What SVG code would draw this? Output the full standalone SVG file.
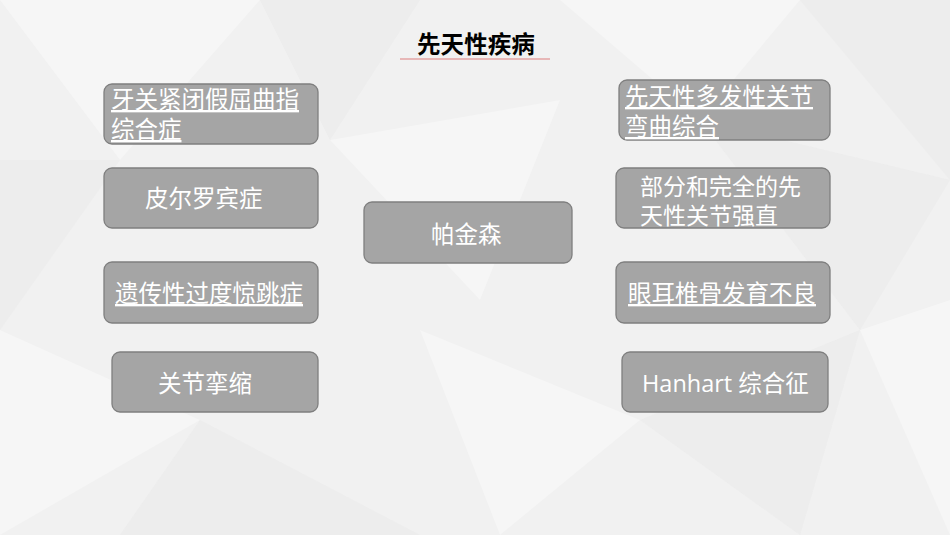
<svg xmlns="http://www.w3.org/2000/svg" width="950" height="535" viewBox="0 0 950 535">
<style>
.box{fill:#a5a5a5;stroke:#7f7f7f;stroke-width:1.3}
.t{font-family:"Open Sans","Noto Sans CJK SC",sans-serif;font-size:23.5px;fill:#ffffff}
.u{text-decoration:underline}
.title{font-family:"Noto Sans CJK SC",sans-serif;font-size:23.6px;font-weight:bold;fill:#000000}
.bg1{fill:#ffffff;opacity:0.35}
.bg2{fill:#e4e4e4;opacity:0.35}
</style>
<g id="background">
<rect x="0" y="0" width="950" height="535" fill="#f1f1f1"/>
<polygon class="bg1" points="0,0 260,0 120,160"/>
<polygon class="bg2" points="260,0 420,0 330,140"/>
<polygon class="bg1" points="560,0 800,0 700,120"/>
<polygon class="bg2" points="800,0 950,0 950,180"/>
<polygon class="bg2" points="0,160 120,160 0,330"/>
<polygon class="bg1" points="330,140 560,100 480,300"/>
<polygon class="bg2" points="700,120 950,180 860,330"/>
<polygon class="bg1" points="0,330 200,420 0,535"/>
<polygon class="bg2" points="200,420 420,535 120,535"/>
<polygon class="bg1" points="420,330 640,420 500,535"/>
<polygon class="bg2" points="640,420 860,330 800,535"/>
<polygon class="bg1" points="860,330 950,300 950,535"/>
</g>
<g id="title">
<text class="title" x="417" y="53">先天性疾病</text>
<line x1="400" y1="59" x2="550" y2="59" stroke="#e3a3a3" stroke-width="1.3"/>
</g>
<g id="connectors"></g>
<g id="node-l1">
<rect class="box" x="104" y="84" width="214" height="60" rx="8"/>
<text class="t u" x="111" y="108">牙关紧闭假屈曲指</text>
<text class="t u" x="111" y="138">综合症</text>
</g>
<g id="node-l2">
<rect class="box" x="104" y="168" width="214" height="60" rx="8"/>
<text class="t" x="145" y="207">皮尔罗宾症</text>
</g>
<g id="node-l3">
<rect class="box" x="104" y="262" width="214" height="61" rx="8"/>
<text class="t u" x="115" y="302">遗传性过度惊跳症</text>
</g>
<g id="node-l4">
<rect class="box" x="112" y="352" width="206" height="60" rx="8"/>
<text class="t" x="158" y="392">关节挛缩</text>
</g>
<g id="node-center">
<rect class="box" x="364" y="202" width="208" height="61" rx="8"/>
<text class="t" x="431" y="243">帕金森</text>
</g>
<g id="node-r1">
<rect class="box" x="619" y="80" width="211" height="60" rx="8"/>
<text class="t u" x="625" y="105">先天性多发性关节</text>
<text class="t u" x="625" y="135">弯曲综合</text>
</g>
<g id="node-r2">
<rect class="box" x="616" y="168" width="214" height="60" rx="8"/>
<text class="t" x="640" y="195" style="font-size:23px">部分和完全的先</text>
<text class="t" x="640" y="224" style="font-size:23px">天性关节强直</text>
</g>
<g id="node-r3">
<rect class="box" x="616" y="262" width="214" height="61" rx="8"/>
<text class="t u" x="628" y="302">眼耳椎骨发育不良</text>
</g>
<g id="node-r4">
<rect class="box" x="622" y="352" width="206" height="60" rx="8"/>
<text class="t" x="642" y="392">Hanhart 综合征</text>
</g>
</svg>
